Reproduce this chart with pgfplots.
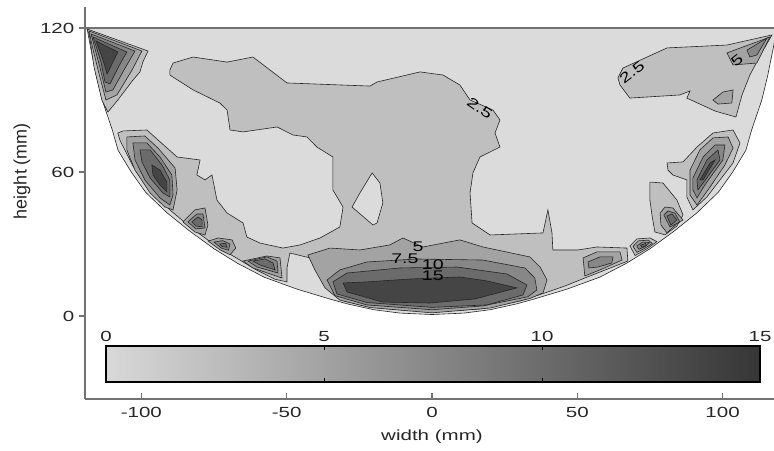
\documentclass[border=0pt]{standalone}
\usepackage{fontspec}
\setmainfont{Liberation Sans}[FakeStretch=1.4]
\newfontfamily\ylabfont{Liberation Sans}
\usepackage{pgfplots}
\pgfplotsset{compat=1.18}
\usetikzlibrary{calc}
\definecolor{c0}{gray}{0.86}
\definecolor{c1}{gray}{0.75}
\definecolor{c2}{gray}{0.64}
\definecolor{c3}{gray}{0.53}
\definecolor{c4}{gray}{0.42}
\definecolor{c5}{gray}{0.27}
\definecolor{cbl}{gray}{0.85}
\definecolor{cbr}{gray}{0.21}
\pgfplotsset{
  lv/.style={draw=black!85, line width=0.45pt, mark=none},
}
\tikzset{clab/.style={font=\fontsize{10.5}{12}\selectfont, inner sep=0pt, text=black}}
\begin{document}
\begin{tikzpicture}
\begin{axis}[
  name=ax,
  scale only axis, width=516.75pt, height=294pt,
  xmin=-119.4, xmax=117.7, ymin=-34.6, ymax=128.75,
  axis x line*=bottom, axis y line*=left,
  axis line style={black!55, line width=0.9pt},
  xtick={-100,-50,0,50,100}, xticklabels={-100,-50,0,50,100},
  ytick={0,60,120}, yticklabels={0,60,120},
  xtick align=inside, ytick align=outside,
  major tick length=4.5pt,
  tick style={black!55, line width=0.8pt},
  tick label style={font=\fontsize{11}{13}\selectfont, text=black!85},
  xticklabel style={yshift=-3pt},
  xlabel={width (mm)}, ylabel={\ylabfont height (mm)},
  xlabel style={font=\fontsize{11}{13}\selectfont, text=black!85, at={(axis description cs:0.5036,-0.0969)}, anchor=center},
  ylabel style={font=\fontsize{13.5}{15}\selectfont, text=black!85, at={(axis description cs:-0.0914,0.5816)}, anchor=center},
]
% domain (level 0-2.5)
\addplot[lv, fill=c0] coordinates {(-118.7,120) (-117.5,112) (-115.5,100) (-113.5,90) (-110,77.5) (-108,69) (-103.5,60) (-98.5,51.5) (-91.2,43) (-83.5,35.5) (-75,28) (-67,22) (-57.8,16.2) (-46.5,11.2) (-35,7) (-29,5) (-20,2.6) (-11,1.2) (0,0.6) (11,1.2) (20,2.6) (29,5) (35,7) (46.5,11.2) (57.8,16.2) (67,22) (75,28) (83.5,35.5) (91.2,43) (98.5,51.5) (103.5,60) (108,69) (110,77.5) (113.5,90) (115.5,100) (117.5,112) (118.7,120)} -- cycle;
% level 2.5-5
\addplot[lv, fill=c1] coordinates {(-90.2,102.5) (-89.1,105.4) (-82.2,107.9) (-70.5,105.8) (-61.6,107.9) (-49.9,97.1) (-21.3,95.8) (-18.9,97.5) (-4.1,101.7) (3.8,100.4) (9.6,96.25) (13.1,90) (21.0,85.8) (23.4,81.7) (21.7,76.25) (23.4,70.4) (16.5,66.25) (14.1,59.6) (13.1,51.25) (13.8,38.75) (20.0,33.75) (38.2,34.6) (39.9,44.2) (41.3,34.6) (41.6,27.5) (50.2,27.5) (56.8,28.75) (67.1,28.3) (67.4,22.9) (57.8,18.3) (50.9,15) (45.8,12.5) (38.9,9.6) (30.3,6.25) (16.5,2.9) (0,1.7) (-17.9,3.2) (-29.9,6) (-35.1,10.8) (-39.2,17.9) (-42.0,24.2) (-48.9,26.25) (-49.9,20) (-49.9,14.2) (-54,15.3) (-60.9,19.5) (-66.1,23.3) (-74.7,29.5) (-82.6,36.5) (-90.2,44.2) (-97,53.3) (-102.9,62.5) (-107.4,73.3) (-108.1,76.25) (-106.3,77.1) (-98.1,77.5) (-87.7,66.25) (-79.8,65) (-80.9,58.75) (-78.1,56.7) (-75.7,58.75) (-74.0,48.3) (-70.5,42.9) (-65.0,38.75) (-63.7,32.9) (-59.2,30.4) (-51.3,28.3) (-45.4,29.6) (-38.5,32.5) (-31.7,37.1) (-30.6,45.4) (-34.1,52.5) (-34.1,66.25) (-39.6,70.4) (-43.0,74.6) (-47.8,75.4) (-53.3,78.75) (-65.0,76.7) (-69.5,77.5) (-70.5,85.8) (-73.0,88.75) (-82.2,94.2) (-90.2,100.4)} -- cycle;
\addplot[lv, fill=c0] coordinates {(-20.6,59.6) (-17.9,55.4) (-16.9,47.1) (-18.9,38.75) (-20.3,37.9) (-27.5,45.4) (-24.8,51.25)} -- cycle;
\addplot[lv, fill=c1] coordinates {(64.0,99.2) (65.7,103.3) (80.9,111.7) (101.5,112.9) (117.0,117.1) (113.6,110) (109.4,100.4) (106.7,92.1) (104.6,82.9) (97.4,85.4) (87.7,90.8) (88.8,93.75) (85.3,92.1) (68.1,90.8) (64.7,96.25)} -- cycle;
\addplot[lv, fill=c1] coordinates {(80.9,63.75) (86.4,64.2) (91.2,70.4) (96.7,76.25) (103.6,77.5) (106.0,72.1) (103.6,63.75) (94.6,49.6) (89.8,44.2) (87.7,49.6) (87.7,56.7) (82.9,58.75) (81.2,60.8)} -- cycle;
\addplot[lv, fill=c1] coordinates {(75.0,55.8) (79.5,55.4) (84.3,48.3) (86.4,42.1) (84.3,37.5) (80.2,33.8) (76.7,35) (75.7,42.1) (75.0,48.3)} -- cycle;
\addplot[lv, fill=c1] coordinates {(68.1,29.2) (70.5,32.1) (75.0,32.5) (77.4,31) (74.0,28) (69.9,25.2)} -- cycle;
\addplot[lv, fill=c1] coordinates {(-118.7,119.6) (-97.7,110.4) (-99.5,105.8) (-100.5,101.7) (-102.9,98.3) (-108.1,90) (-111.5,85) (-113.6,90) (-116.3,103.75) (-117.9,117.1)} -- cycle;
% level 5-7.5
\addplot[lv, fill=c2] coordinates {(-118.0,118.75) (-99.8,110.4) (-103.2,102.5) (-108.4,92.1) (-112.2,90) (-114.9,102.5) (-117.0,112.9)} -- cycle;
\addplot[lv, fill=c2] coordinates {(-105.0,74.6) (-98.8,75) (-94.3,70) (-88.4,61.7) (-87.7,52.5) (-89.1,44.2) (-91.9,45.4) (-97.0,51.25) (-102.2,60.8) (-105.0,69.2)} -- cycle;
\addplot[lv, fill=c2] coordinates {(-85.7,39.2) (-81.6,44.2) (-78.1,45) (-77.1,37.9) (-78.1,33.75) (-81.6,35)} -- cycle;
\addplot[lv, fill=c2] coordinates {(-77.0,31.2) (-73.6,32.5) (-68.8,31.7) (-67.5,28.3) (-69.5,25.5) (-73.0,27.6)} -- cycle;
\addplot[lv, fill=c2] coordinates {(-65.0,22.9) (-56.8,25) (-52.3,24.2) (-51.6,15.8) (-61.6,20)} -- cycle;
\addplot[lv, fill=c2] coordinates {(-42.7,25.4) (-35.1,28.3) (-24.8,27.5) (-14.5,29.6) (-10.0,32.5) (-3.1,28.75) (9.6,31.7) (17.5,28.75) (33.7,24.6) (37.2,20.4) (39.6,15) (38.2,9.6) (33.7,7.3) (20,3.3) (0,1.3) (-21.3,3.5) (-31.7,6.6) (-36.8,11.7) (-40.3,19.2)} -- cycle;
\addplot[lv, fill=c2] coordinates {(52.0,24.2) (56.8,26.7) (64.7,26.7) (65.4,23.3) (57.8,19.2) (52.6,16.7)} -- cycle;
\addplot[lv, fill=c2] coordinates {(69.2,29.0) (71.0,31.3) (74.5,31.6) (75.8,30.2) (73.5,28.4) (70.5,26.5)} -- cycle;
\addplot[lv, fill=c2] coordinates {(78.5,42.9) (80.2,45.4) (82.9,45) (86.4,40) (84.3,38.5) (80.9,34.6) (78.8,37.9)} -- cycle;
\addplot[lv, fill=c2] coordinates {(88.8,60.8) (92.2,69.2) (96.7,74.2) (101.9,74.6) (103.6,70) (100.8,62.9) (95.0,52.5) (91.2,46.25) (88.8,50.4)} -- cycle;
\addplot[lv, fill=c2] coordinates {(96.7,90) (100.1,93.3) (103.6,94.2) (103.2,88.75) (98.4,88.3)} -- cycle;
\addplot[lv, fill=c2] coordinates {(101.5,109.6) (116.3,116.25) (111.8,105.4) (103.6,104.6)} -- cycle;
% level 7.5-10
\addplot[lv, fill=c3] coordinates {(-117.3,117.5) (-102.2,110.4) (-105.6,103.3) (-109.8,94.2) (-112.2,93.3) (-114.2,103.3) (-116.3,112.9)} -- cycle;
\addplot[lv, fill=c3] coordinates {(-102.9,72.1) (-98.1,72.1) (-93.6,66.25) (-89.5,58.75) (-89.1,50.4) (-90.2,46.25) (-93.6,49.2) (-98.8,56.7) (-102.2,65)} -- cycle;
\addplot[lv, fill=c3] coordinates {(-84.0,39.2) (-80.9,42.5) (-78.8,42.5) (-78.1,36.7) (-81.2,36.25)} -- cycle;
\addplot[lv, fill=c3] coordinates {(-75.0,30.8) (-72.0,31.4) (-69.5,30.0) (-70.0,27.4) (-72.5,28.3)} -- cycle;
\addplot[lv, fill=c3] coordinates {(-63.3,22.9) (-56.8,24.6) (-53.3,22.9) (-53.0,17.9) (-60.2,20.4)} -- cycle;
\addplot[lv, fill=c3] coordinates {(-36.1,15) (-31.7,19.2) (-22.4,22.5) (-5.2,23.75) (17.5,23.3) (32.0,20) (35.4,15.8) (36.1,10.8) (33.0,8) (17.5,4.2) (0,2.6) (-22.4,4.6) (-33.4,8.5)} -- cycle;
\addplot[lv, fill=c3] coordinates {(53.7,22.5) (57.8,24.6) (62.3,24.6) (61.9,22.1) (57.1,20.4) (54.0,20)} -- cycle;
\addplot[lv, fill=c3] coordinates {(70.5,29.2) (72.5,30.8) (74.8,30.6) (73.3,28.9) (71.2,27.8)} -- cycle;
\addplot[lv, fill=c3] coordinates {(79.8,42.1) (81.2,43.75) (83.6,42.9) (85.3,39.2) (81.9,37.1)} -- cycle;
\addplot[lv, fill=c3] coordinates {(89.8,57.5) (93.3,66.25) (97.4,71.25) (100.8,71.25) (100.1,65) (93.9,54.6) (91.2,49.2) (89.8,52.5)} -- cycle;
\addplot[lv, fill=c3] coordinates {(108.4,110.8) (115.3,115.8) (111.8,108.75) (109.4,107.9)} -- cycle;
% level 10-12.5
\addplot[lv, fill=c4] coordinates {(-116.7,116.25) (-105.0,110) (-107.7,104.2) (-110.8,96.7) (-112.5,97.5) (-113.9,105.8) (-115.6,112.5)} -- cycle;
\addplot[lv, fill=c4] coordinates {(-100.5,69.2) (-97.0,69.2) (-92.9,62.9) (-90.2,56.7) (-90.2,49.6) (-92.6,51.25) (-97.0,57.5) (-99.8,64.2)} -- cycle;
\addplot[lv, fill=c4] coordinates {(-82.6,39.2) (-80.5,41.25) (-79.1,40) (-79.1,37.1) (-81.2,37.5)} -- cycle;
\addplot[lv, fill=c4] coordinates {(-73.0,30.0) (-71.0,30.3) (-70.5,28.6) (-72.3,29.0)} -- cycle;
\addplot[lv, fill=c4] coordinates {(-61.6,22.9) (-57.5,23.75) (-54.7,22.1) (-54.0,19.2) (-59.2,21.25)} -- cycle;
\addplot[lv, fill=c4] coordinates {(-34.1,14.2) (-29.2,17.9) (-11.0,20) (8.6,20.4) (25.8,17.5) (32.7,12.9) (31.3,8.75) (18.9,4.6) (0,3.6) (-22.4,5.6) (-32.7,9.2)} -- cycle;
\addplot[lv, fill=c4] coordinates {(71.8,29.5) (73.5,30.2) (73.8,29.4) (72.2,28.6)} -- cycle;
\addplot[lv, fill=c4] coordinates {(80.9,41.7) (82.6,42.5) (84.3,40) (82.2,37.9)} -- cycle;
\addplot[lv, fill=c4] coordinates {(91.2,56.7) (94.6,65) (98.4,69.2) (99.1,65) (93.3,55.4) (91.5,52.5)} -- cycle;
% level 12.5-15
\addplot[lv, fill=c5] coordinates {(-115.6,114.6) (-108.1,110) (-110.1,105) (-111.8,100.8) (-113.2,106.7)} -- cycle;
\addplot[lv, fill=c5] coordinates {(-96.4,62.9) (-93.6,60.8) (-91.2,55.8) (-91.2,51.7) (-93.6,54.6) (-96.0,58.75)} -- cycle;
\addplot[lv, fill=c5] coordinates {(-30.6,13.75) (-22.4,14.2) (-7.6,15.4) (9.6,16.25) (18.9,14.6) (29.2,11.7) (14.8,7.1) (-0.7,5.4) (-16.9,5.8) (-29.2,10)} -- cycle;
\addplot[lv, fill=c5] coordinates {(92.2,56.7) (95.7,63.75) (97.4,65) (93.3,56.7)} -- cycle;
% top edge of domain
\addplot[black!55, line width=0.9pt, mark=none] coordinates {(-119.4,120) (117.7,120)};
% contour labels
\node[clab, rotate=-35] at (axis cs:16.5,86.7) {2.5};
\node[clab, rotate=38] at (axis cs:68.8,101.7) {2.5};
\node[clab, rotate=38] at (axis cs:105,106.5) {5};
\node[clab] at (axis cs:-4.8,28.75) {5};
\node[clab] at (axis cs:-9.3,23.75) {7.5};
\node[clab] at (axis cs:0.3,21.25) {10};
\node[clab] at (axis cs:0.3,16.7) {15};
\end{axis}
% colour bar (0 to 15)
\begin{axis}[
  at={($(ax.south west)+(15.75pt,12.75pt)$)}, anchor=south west,
  scale only axis, width=490.5pt, height=27pt,
  xmin=0, xmax=15, ymin=0, ymax=1,
  xtick={0,5,10,15}, xticklabels={0,5,10,15}, ytick=\empty,
  xticklabel pos=upper,
  xtick align=inside, major tick length=3pt,
  tick style={black, line width=0.6pt},
  axis line style={black, line width=0.8pt},
  tick label style={font=\fontsize{11}{13}\selectfont, text=black!85},
  axis on top,
]
\addplot[draw=none, left color=cbl, right color=cbr, mark=none] coordinates {(0,0) (15,0) (15,1) (0,1)} -- cycle;
\end{axis}
\pgfresetboundingbox
\path ([shift={(-63.75pt,-38.25pt)}]ax.south west) rectangle ([shift={(0pt,5.25pt)}]ax.north east);
\end{tikzpicture}
\end{document}
